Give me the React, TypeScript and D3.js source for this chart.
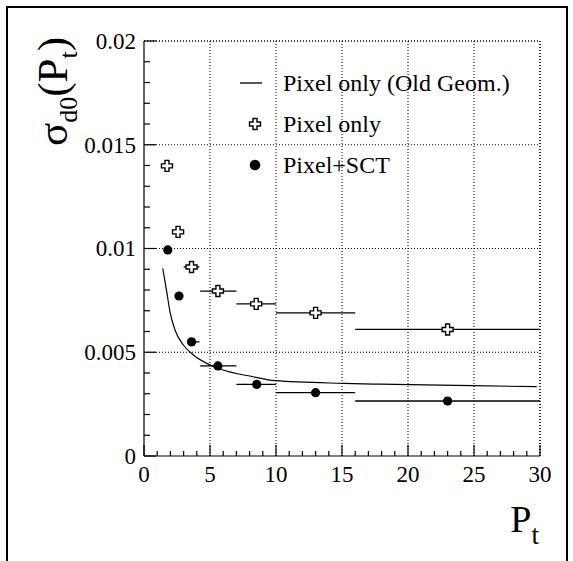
import * as d3 from "d3";
import { useEffect, useRef } from "react";

const W = 573;
const H = 561;
const frame = { left: 144, right: 540, top: 41, bottom: 456 };

// Pixel only (Old Geom.) curve
const oldGeomPt = [1.42, 1.72, 1.97, 2.35, 2.98, 3.74, 5.0, 5.76, 8.26, 9.92, 15.1, 17.9, 24.9, 29.75];
const oldGeomSigma = [0.00904, 0.00792, 0.00695, 0.00607, 0.00535, 0.00487, 0.00439, 0.00419, 0.00382, 0.00363, 0.0035, 0.00346, 0.00339, 0.00334];

// Pixel only (open crosses)
const pixPt = [1.74, 2.58, 3.6, 5.6, 8.5, 13, 23];
const pixSigma = [0.01398, 0.0108, 0.00911, 0.00795, 0.00733, 0.0069, 0.0061];
const pixLo = [1.74, 2.58, 3.0, 4.25, 7, 10, 16];
const pixHi = [1.74, 2.58, 4.2, 7, 10, 16, 30];

// Pixel+SCT (filled circles)
const sctPt = [1.8, 2.65, 3.6, 5.6, 8.54, 13, 23];
const sctSigma = [0.00993, 0.00771, 0.0055, 0.00434, 0.00345, 0.00305, 0.00265];
const sctLo = [1.8, 2.65, 3.3, 4.25, 7, 10, 16];
const sctHi = [1.8, 2.65, 4.2, 7, 10, 16, 30];

const yTicks = [0, 0.005, 0.01, 0.015, 0.02];
const xTicks = [0, 5, 10, 15, 20, 25, 30];
const legendLabels = ["Pixel only (Old Geom.)", "Pixel only", "Pixel+SCT"];

const FONT = '"Liberation Serif", "Times New Roman", Times, Tinos, "DejaVu Serif", serif';

const crossPath = (cx, cy, s = 5.5, a = 2) =>
  `M${cx - a},${cy - s}H${cx + a}V${cy - a}H${cx + s}V${cy + a}H${cx + a}V${cy + s}H${cx - a}V${cy + a}H${cx - s}V${cy - a}H${cx - a}Z`;

const App = () => {
  const svgRef = useRef(null);

  useEffect(() => {
    const svg = d3.select(svgRef.current);
    svg.selectAll("*").remove();

    const x = d3.scaleLinear().domain([0, 30]).range([frame.left, frame.right]);
    const y = d3.scaleLinear().domain([0, 0.02]).range([frame.bottom, frame.top]);

    // outer pad border
    svg
      .append("rect")
      .attr("x", 7)
      .attr("y", 7)
      .attr("width", 560)
      .attr("height", 620)
      .attr("fill", "none")
      .attr("stroke", "black")
      .attr("stroke-width", 2);

    // grid
    const grid = svg.append("g").attr("stroke", "black").attr("stroke-dasharray", "1,2");
    xTicks.slice(1).forEach((t) => {
      grid
        .append("line")
        .attr("x1", x(t))
        .attr("x2", x(t))
        .attr("y1", frame.top)
        .attr("y2", frame.bottom)
        .attr("stroke-width", t === 30 ? 1.6 : 1);
    });
    yTicks.slice(1).forEach((t) => {
      grid
        .append("line")
        .attr("x1", frame.left)
        .attr("x2", frame.right)
        .attr("y1", y(t))
        .attr("y2", y(t))
        .attr("stroke-width", t === 0.02 ? 1.6 : 1);
    });

    // axes with inward ticks
    const axes = svg.append("g").attr("stroke", "black").attr("stroke-width", 1.2);
    axes.append("line").attr("x1", frame.left).attr("x2", frame.left).attr("y1", frame.top).attr("y2", frame.bottom);
    axes.append("line").attr("x1", frame.left).attr("x2", frame.right).attr("y1", frame.bottom).attr("y2", frame.bottom);
    d3.range(0, 0.02001, 0.001).forEach((v, i) => {
      const len = i % 5 === 0 ? 12 : 6;
      axes.append("line").attr("x1", frame.left).attr("x2", frame.left + len).attr("y1", y(v)).attr("y2", y(v));
    });
    d3.range(0, 31, 1).forEach((v) => {
      const len = v % 5 === 0 ? 11 : 5;
      axes.append("line").attr("x1", x(v)).attr("x2", x(v)).attr("y1", frame.bottom).attr("y2", frame.bottom - len);
    });

    // tick labels
    svg
      .append("g")
      .selectAll("text")
      .data(yTicks)
      .join("text")
      .attr("x", 136)
      .attr("y", (d) => y(d))
      .attr("dy", "0.34em")
      .attr("text-anchor", "end")
      .style("font-family", FONT)
      .attr("font-size", 23)
      .text((d) => (d === 0 ? "0" : String(d)));
    svg
      .append("g")
      .selectAll("text")
      .data(xTicks)
      .join("text")
      .attr("x", (d) => x(d))
      .attr("y", 482)
      .attr("text-anchor", "middle")
      .style("font-family", FONT)
      .attr("font-size", 23)
      .text((d) => d);

    // axis titles
    const xt = svg
      .append("text")
      .attr("x", 539)
      .attr("y", 532)
      .attr("text-anchor", "end")
      .style("font-family", FONT)
      .attr("font-size", 38);
    xt.append("tspan").text("P");
    xt.append("tspan").attr("font-size", 27).attr("dy", 12).text("t");

    const yt = svg
      .append("text")
      .attr("transform", "translate(67,37) rotate(-90)")
      .attr("text-anchor", "end")
      .style("font-family", FONT)
      .attr("font-size", 43);
    yt.append("tspan").text("σ");
    yt.append("tspan").attr("font-size", 26).attr("dy", 10).text("d0");
    yt.append("tspan").attr("dy", -10).text("(P");
    yt.append("tspan").attr("font-size", 26).attr("dy", 10).text("t");
    yt.append("tspan").attr("dy", -10).text(")");

    // old geometry curve
    const line = d3
      .line()
      .x((d) => x(d[0]))
      .y((d) => y(d[1]))
      .curve(d3.curveMonotoneX);
    svg
      .append("path")
      .attr("d", line(oldGeomPt.map((p, i) => [p, oldGeomSigma[i]])))
      .attr("fill", "none")
      .attr("stroke", "black")
      .attr("stroke-width", 1.2);

    // error bars
    const bars = svg.append("g").attr("stroke", "black").attr("stroke-width", 1.3);
    pixPt.forEach((p, i) => {
      if (pixHi[i] > pixLo[i])
        bars.append("line").attr("x1", x(pixLo[i])).attr("x2", x(pixHi[i])).attr("y1", y(pixSigma[i])).attr("y2", y(pixSigma[i]));
    });
    sctPt.forEach((p, i) => {
      if (sctHi[i] > sctLo[i])
        bars.append("line").attr("x1", x(sctLo[i])).attr("x2", x(sctHi[i])).attr("y1", y(sctSigma[i])).attr("y2", y(sctSigma[i]));
    });

    // markers
    svg
      .append("g")
      .selectAll("path")
      .data(pixPt)
      .join("path")
      .attr("d", (d, i) => crossPath(x(d), y(pixSigma[i])))
      .attr("fill", "white")
      .attr("stroke", "black")
      .attr("stroke-width", 1.4);
    svg
      .append("g")
      .selectAll("circle")
      .data(sctPt)
      .join("circle")
      .attr("cx", (d) => x(d))
      .attr("cy", (d, i) => y(sctSigma[i]))
      .attr("r", 4.6)
      .attr("fill", "black");

    // legend
    const leg = svg.append("g");
    const rowY = [83, 124, 165];
    leg.append("line").attr("x1", 240).attr("x2", 262).attr("y1", rowY[0]).attr("y2", rowY[0]).attr("stroke", "black").attr("stroke-width", 1.3);
    leg
      .append("path")
      .attr("d", crossPath(255, rowY[1], 5.5, 2))
      .attr("fill", "white")
      .attr("stroke", "black")
      .attr("stroke-width", 1.4);
    leg.append("circle").attr("cx", 255).attr("cy", rowY[2]).attr("r", 5.3).attr("fill", "black");
    leg
      .selectAll("text")
      .data(legendLabels)
      .join("text")
      .attr("x", 283)
      .attr("y", (d, i) => rowY[i] + 8)
      .style("font-family", FONT)
      .attr("font-size", 24)
      .text((d) => d);
  }, []);

  return (
    <svg
      ref={svgRef}
      width={W}
      height={H}
      style={{ position: "absolute", left: 0, top: 0, background: "white" }}
    />
  );
};

export default App;
